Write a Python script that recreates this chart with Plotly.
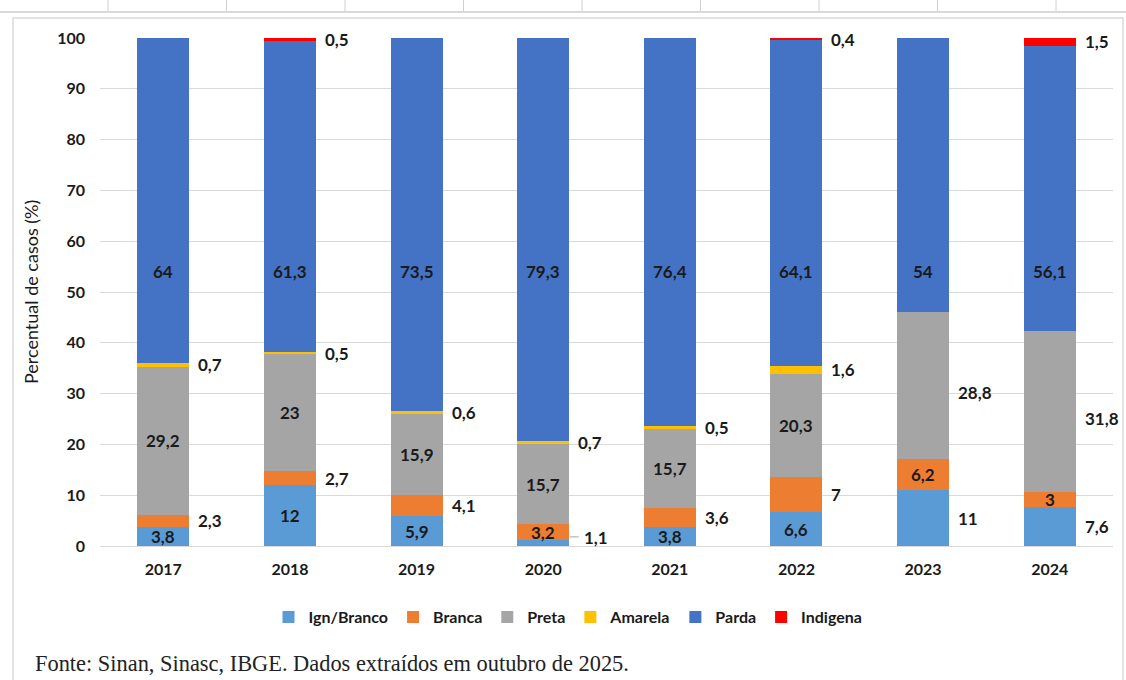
import plotly.graph_objects as go

# Percentual de casos por raça/cor, 2017-2024
anos = ["2017", "2018", "2019", "2020", "2021", "2022", "2023", "2024"]
ign_branco = [3.8, 12, 5.9, 1.1, 3.8, 6.6, 11, 7.6]
branca = [2.3, 2.7, 4.1, 3.2, 3.6, 7, 6.2, 3]
preta = [29.2, 23, 15.9, 15.7, 15.7, 20.3, 28.8, 31.8]
amarela = [0.7, 0.5, 0.6, 0.7, 0.5, 1.6, 0, 0]
parda = [64, 61.3, 73.5, 79.3, 76.4, 64.1, 54, 56.1]
indigena = [0, 0.5, 0, 0, 0, 0.4, 0, 1.5]

series = [
    ("Ign/Branco", ign_branco, "#5B9BD5"),
    ("Branca", branca, "#ED7D31"),
    ("Preta", preta, "#A5A5A5"),
    ("Amarela", amarela, "#FFC000"),
    ("Parda", parda, "#4472C4"),
    ("Indigena", indigena, "#FF0000"),
]

# labels drawn beside the bar instead of inside it: (series, year)
fora = {
    ("Ign/Branco", "2020"), ("Ign/Branco", "2023"), ("Ign/Branco", "2024"),
    ("Branca", "2017"), ("Branca", "2018"), ("Branca", "2019"),
    ("Branca", "2021"), ("Branca", "2022"),
    ("Preta", "2023"), ("Preta", "2024"),
}
fora |= {("Amarela", a) for a in anos} | {("Indigena", a) for a in anos}
PARDA_LABEL_Y = 54  # Parda labels share one height

FONT = "Lato, 'Liberation Sans', Arial, sans-serif"
W, H = 1126, 680
L, R, T, B = 100, 13, 38, 134
PW, PH = W - L - R, H - T - B

pos = list(range(len(anos)))  # bar slots on the x axis


def px(x):
    return (x - L) / PW


def py(y):
    return (H - B - y) / PH


fig = go.Figure()
for nome, vals, cor in series:
    fig.add_trace(go.Bar(
        name=nome, x=pos, y=vals, marker=dict(color=cor, line=dict(width=0)),
        hoverinfo="skip",
    ))


def fmt(v):
    return f"{v:g}".replace(".", ",")


annotations = []
base = [0.0] * len(anos)
for nome, vals, cor in series:
    for i, (ano, v) in enumerate(zip(anos, vals)):
        if v > 0:
            centro = base[i] + v / 2
            if nome == "Parda":
                centro = PARDA_LABEL_Y
            out = (nome, ano) in fora
            yshift = 0
            xshift = 33 if out else 0
            if nome == "Ign/Branco" and ano == "2020":
                xshift, yshift = 39, 6
            if nome == "Preta" and out:
                yshift = -7
            annotations.append(dict(
                x=pos[i], y=centro, xref="x", yref="y", text=fmt(v),
                showarrow=False, xanchor="left" if out else "center",
                yanchor="middle", xshift=xshift, yshift=yshift,
                font=dict(family=FONT, size=17, color="#1a1a1a", weight="bold"),
            ))
        base[i] += v

# axis title and source line
annotations.append(dict(
    x=px(31), y=py(292), xref="paper", yref="paper", text="Percentual de casos (%)",
    textangle=-90, showarrow=False, xanchor="center", yanchor="middle",
    font=dict(family=FONT, size=18, color="#1a1a1a"),
))
annotations.append(dict(
    x=px(33), y=py(663), xref="paper", yref="paper",
    text="Fonte: Sinan, Sinasc, IBGE. Dados extraídos em outubro de 2025.",
    showarrow=False, xanchor="left", yanchor="middle",
    font=dict(family="'Liberation Serif', 'Times New Roman', serif", size=22.4, color="#222222"),
))

shapes = []
# page rule and column ticks above the chart frame
shapes.append(dict(type="line", xref="paper", yref="paper", x0=px(0), x1=px(W),
                   y0=py(12), y1=py(12), line=dict(color="#d9d9d9", width=2), layer="below"))
for k in range(9):
    xk = 108 + 118.5 * k
    shapes.append(dict(type="line", xref="paper", yref="paper", x0=px(xk), x1=px(xk),
                       y0=py(0), y1=py(11), line=dict(color="#d0d0d0", width=1), layer="below"))
# chart frame
shapes.append(dict(type="rect", xref="paper", yref="paper", x0=px(13), x1=px(1123),
                   y0=py(700), y1=py(18), line=dict(color="#d9d9d9", width=1.5),
                   fillcolor="rgba(0,0,0,0)", layer="below"))
# leader line for the small 2020 label
shapes.append(dict(type="line", xref="x", yref="y", x0=pos[3] + 0.21, x1=pos[3] + 0.28,
                   y0=1.8, y1=1.8, line=dict(color="#a6a6a6", width=1)))

fig.update_layout(
    width=W, height=H, barmode="stack", bargap=0.59,
    margin=dict(l=L, r=R, t=T, b=B, autoexpand=False),
    paper_bgcolor="white", plot_bgcolor="white",
    font=dict(family=FONT, color="#1a1a1a"),
    xaxis=dict(range=[-0.5, len(anos) - 0.5], tickmode="array", tickvals=pos, ticktext=anos,
               showgrid=False, showline=False, zeroline=False, ticks="",
               tickfont=dict(family=FONT, size=16, color="#1a1a1a", weight="bold"),
               ticklabelstandoff=12),
    yaxis=dict(range=[0, 100], dtick=10, showgrid=True, gridcolor="#d9d9d9", gridwidth=1,
               zeroline=True, zerolinecolor="#d9d9d9", zerolinewidth=1, showline=False,
               ticks="", tickfont=dict(family=FONT, size=16, color="#1a1a1a", weight="bold"),
               ticklabelstandoff=14),
    legend=dict(orientation="h", x=px(568), xanchor="center", y=py(617), yanchor="middle",
                traceorder="normal",
                font=dict(family=FONT, size=16, color="#1a1a1a", weight="bold")),
    annotations=annotations, shapes=shapes,
)

fig.write_html("out.html")
